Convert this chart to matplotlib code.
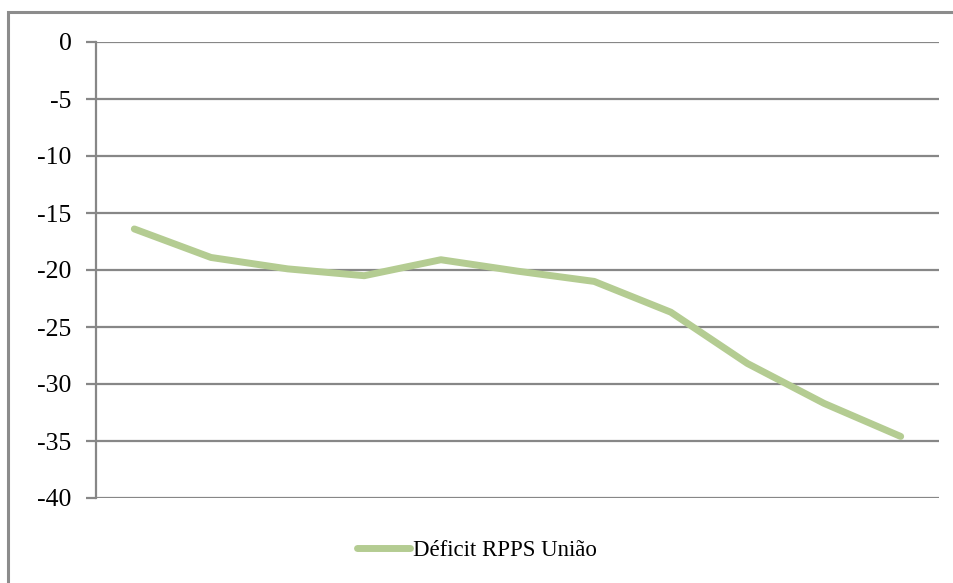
import matplotlib.pyplot as plt
from matplotlib.patches import Rectangle

# Déficit do RPPS da União (série anual)
periodos = list(range(1, 12))
deficit = [-16.4, -18.9, -19.9, -20.5, -19.1, -20.1, -21.0, -23.7, -28.2, -31.7, -34.6]
yticks = [0, -5, -10, -15, -20, -25, -30, -35, -40]

plt.rcParams['font.family'] = ['Liberation Serif', 'DejaVu Serif']

fig = plt.figure(figsize=(9.54, 5.83), dpi=100)
W, H = 954, 583
ax = fig.add_axes([96 / W, 1 - 498 / H, (939 - 96) / W, (498 - 42) / H])

grid = '#878787'
for v in yticks:
    ax.axhline(v, color=grid, lw=1.6, zorder=1)

ax.plot(periodos, deficit, color='#b4cc92', lw=5, solid_capstyle='round',
        solid_joinstyle='round', label='Déficit RPPS União', zorder=3)

ax.set_xlim(0.5, 11.5)
ax.set_ylim(-40, 0)
ax.set_yticks(yticks)
ax.set_yticklabels([str(v) for v in yticks], fontsize=18.5)
ax.set_xticks([])
for s in ['top', 'right', 'bottom']:
    ax.spines[s].set_visible(False)
ax.spines['left'].set_color(grid)
ax.spines['left'].set_linewidth(1.6)
ax.tick_params(axis='y', direction='out', length=7, width=1.6, color=grid, pad=10.5)

leg = fig.legend(loc='center', bbox_to_anchor=(477 / W, 1 - 550 / H), frameon=False,
                 fontsize=16.5, handlelength=2.3, handletextpad=0.15)

# moldura do gráfico (só aparecem as bordas superior e esquerda)
fig.patches.append(Rectangle((8 / W, -0.1), 1.2, 1 - 12 / H + 0.1, transform=fig.transFigure,
                             fill=False, edgecolor='#8c8c8c', lw=2.2))

fig.savefig('out.png', dpi=100)
